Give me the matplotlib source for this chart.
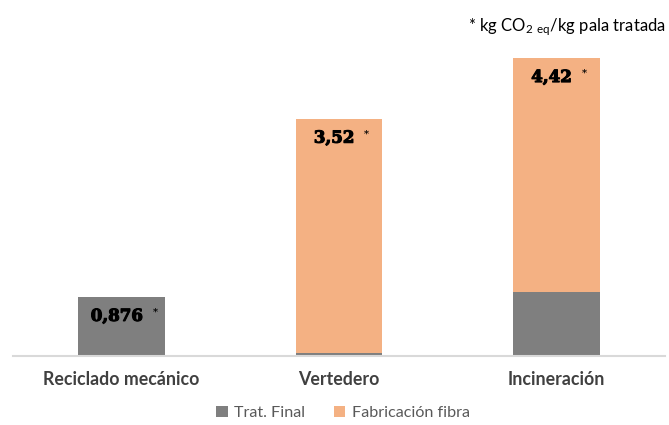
import matplotlib
matplotlib.use('Agg')
import matplotlib.pyplot as plt
import matplotlib.patheffects as pe
import numpy as np

# data
categories = ['Reciclado mecánico', 'Vertedero', 'Incineración']
trat_final = [0.876, 0.05, 0.95]
fabricacion_fibra = [0.0, 3.47, 3.47]
total_labels = ['0,876', '3,52', '4,42']

plt.rcParams['font.family'] = ['Lato', 'DejaVu Sans']
plt.rcParams['mathtext.fontset'] = 'custom'
plt.rcParams['mathtext.rm'] = 'Lato'
plt.rcParams['mathtext.it'] = 'Lato'

fig = plt.figure(figsize=(6.69, 4.25), dpi=100)
ax = fig.add_axes([13 / 669, (425 - 356) / 425, 652 / 669, 337 / 425])

x = np.arange(len(categories))
b1 = ax.bar(x, trat_final, width=0.4, color='#7f7f7f', label='Trat. Final')
b2 = ax.bar(x, fabricacion_fibra, width=0.4, bottom=trat_final,
            color='#f4b183', label='Fabricación fibra')

ax.set_xlim(-0.5, len(categories) - 0.5)
ax.set_ylim(0, 5)

# totals inside the bars, with a small asterisk
heavy = [pe.withStroke(linewidth=0.8, foreground='black')]
totals = np.array(trat_final) + np.array(fabricacion_fibra)
for xi, tot, lab in zip(x, totals, total_labels):
    t = ax.annotate(lab, xy=(xi, tot), xytext=(-3.5, -14), textcoords='offset points',
                    ha='center', va='center', fontsize=12, fontweight='bold',
                    family='DejaVu Serif', color='black', path_effects=heavy)
    ax.annotate('*', xy=(1, 1), xycoords=t, xytext=(7, 0), textcoords='offset points',
                ha='left', va='top', fontsize=7, fontweight='bold',
                family='DejaVu Serif', color='black')

ax.set_xticks(x)
ax.set_xticklabels(categories, fontsize=12.8, fontweight='bold', color='#404040')
ax.tick_params(axis='x', length=0, pad=11)
ax.set_yticks([])
for side in ['top', 'left', 'right']:
    ax.spines[side].set_visible(False)
ax.spines['bottom'].set_color('#d9d9d9')
ax.spines['bottom'].set_linewidth(1.5)

fig.text(666 / 669, 1 - 27 / 425, r'* kg CO$_2$ $_{eq}$/kg pala tratada',
         ha='right', va='center', fontsize=12, color='black')

fig.legend(handles=[b1, b2], loc='center', bbox_to_anchor=(0.513, 1 - 413 / 425),
           ncol=2, frameon=False, fontsize=11.6, handlelength=0.7, handleheight=0.7,
           handletextpad=0.4, columnspacing=1.8, labelcolor='#595959')

plt.savefig('out.png', dpi=100)
